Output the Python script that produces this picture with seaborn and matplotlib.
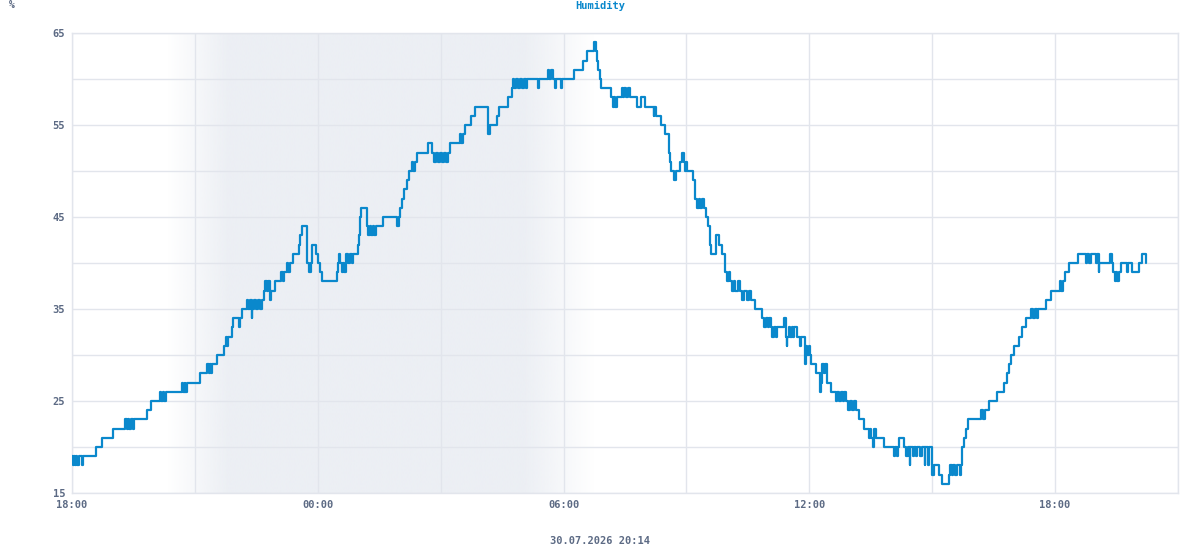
import numpy as np
import pandas as pd
import matplotlib
matplotlib.use("Agg")
import matplotlib.pyplot as plt
import matplotlib.dates as mdates
import seaborn as sns

# Readings: minutes after 18:00 where the value changes, and the new value (%)
start = pd.Timestamp("2026-07-29 18:00")
minutes = [
    0, 1, 3, 4, 6, 8, 10, 15, 16, 35, 44, 60, 78, 80, 82, 84, 86, 89, 91,
    110, 116, 129, 131, 133, 135, 137, 161, 163, 165, 166, 168, 187, 198, 200, 202, 204, 205,
    212, 222, 225, 227, 229, 234, 236, 244, 246, 249, 256, 258, 260, 263, 264, 266, 270, 272, 276, 278,
    281, 283, 285, 287, 290, 292, 297, 306, 309, 310, 315, 317, 319, 323, 332, 334, 337, 344, 347, 350,
    352, 357, 360, 363, 366, 388, 390, 391, 393, 395, 397, 399, 401, 404, 407, 410, 412,
    419, 420, 422, 424, 432, 434, 436, 438, 441, 443, 446, 455, 476, 479, 480, 483, 486, 490, 494,
    498, 500, 503, 505, 521, 528, 530, 533, 536, 539, 542, 545, 548, 551, 553, 568, 570, 572, 575, 585, 591,
    610, 612, 622, 626, 638, 644, 646, 648, 650, 653, 656, 659, 662, 665, 667, 682, 684,
    697, 699, 701, 704, 708, 709, 716, 717, 736, 748, 754, 764, 767, 769, 771, 773, 775,
    790, 792, 794, 796, 798, 805, 807, 809, 811, 814, 817, 827, 834, 839, 852, 853, 855,
    863, 868, 874, 876, 878, 882, 884, 890, 894, 896, 898, 900, 901,
    909, 912, 915, 918, 920, 923, 925, 929, 932, 934, 936, 944, 948, 952, 956, 960,
    962, 964, 967, 969, 971, 975, 978, 982, 985, 988, 991, 995, 1000,
    1011, 1014, 1016, 1019, 1021, 1024, 1026, 1028, 1031, 1033, 1043, 1046, 1047, 1048, 1050, 1052, 1054, 1056, 1058,
    1062, 1066, 1068, 1073, 1075, 1077, 1079, 1081, 1083, 1090, 1095, 1097, 1098, 1101, 1103, 1106, 1112,
    1119, 1121, 1124, 1126, 1129, 1131, 1134, 1137, 1139, 1142, 1145, 1148, 1153, 1160,
    1167, 1169, 1171, 1173, 1175, 1177, 1190, 1204, 1206, 1208, 1210, 1212, 1219, 1222, 1224,
    1227, 1228, 1232, 1234, 1236, 1238, 1242, 1245, 1249, 1250, 1254, 1255,
    1260, 1262, 1270, 1275, 1284, 1286, 1289, 1291, 1294, 1296, 1300, 1302,
    1304, 1307, 1310, 1313, 1332, 1334, 1337, 1343, 1355, 1365, 1369, 1373, 1376, 1380, 1387, 1392, 1398,
    1405, 1408, 1410, 1413, 1415, 1427, 1434, 1447, 1449, 1451, 1455, 1460, 1474,
    1485, 1487, 1489, 1493, 1500, 1502, 1504, 1505, 1521, 1523, 1525, 1527, 1529, 1531, 1533,
    1537, 1545, 1547, 1553, 1563, 1567, 1573,
]
humidity = [
    19, 18, 19, 18, 19, 18, 19, 18, 19, 20, 21, 22, 23, 22, 23, 22, 23, 22, 23,
    24, 25, 26, 25, 26, 25, 26, 27, 26, 27, 26, 27, 28, 29, 28, 29, 28, 29,
    30, 31, 32, 31, 32, 33, 34, 33, 34, 35, 36, 35, 36, 34, 35, 36, 35, 36, 35, 36,
    37, 38, 37, 38, 36, 37, 38, 39, 38, 39, 40, 39, 40, 41, 42, 43, 44, 40, 39, 40,
    42, 41, 40, 39, 38, 39, 40, 41, 40, 39, 40, 39, 41, 40, 41, 40, 41,
    42, 43, 45, 46, 44, 43, 44, 43, 44, 43, 44, 45, 44, 45, 46, 47, 48, 49, 50,
    51, 50, 51, 52, 53, 52, 51, 52, 51, 52, 51, 52, 51, 52, 53, 54, 53, 54, 55, 56, 57,
    54, 55, 56, 57, 58, 59, 60, 59, 60, 59, 60, 59, 60, 59, 60, 59, 60,
    61, 60, 61, 60, 59, 60, 59, 60, 61, 62, 63, 64, 63, 62, 61, 60, 59,
    58, 57, 58, 57, 58, 59, 58, 59, 58, 59, 58, 57, 58, 57, 56, 57, 56,
    55, 54, 52, 51, 50, 49, 50, 51, 52, 51, 50, 51, 50,
    49, 47, 46, 47, 46, 47, 46, 45, 44, 42, 41, 43, 42, 41, 39, 38,
    39, 38, 37, 38, 37, 38, 37, 36, 37, 36, 37, 36, 35,
    34, 33, 34, 33, 34, 33, 32, 33, 32, 33, 34, 32, 31, 32, 33, 32, 33, 32, 33,
    32, 31, 32, 29, 31, 30, 31, 30, 29, 28, 26, 27, 29, 28, 29, 27, 26,
    25, 26, 25, 26, 25, 26, 25, 24, 25, 24, 25, 24, 23, 22,
    21, 22, 21, 20, 22, 21, 20, 19, 20, 19, 20, 21, 20, 19, 20,
    18, 20, 19, 20, 19, 20, 19, 20, 18, 20, 18, 20,
    17, 18, 17, 16, 17, 18, 17, 18, 17, 18, 17, 18,
    20, 21, 22, 23, 24, 23, 24, 25, 26, 27, 28, 29, 30, 31, 32, 33, 34,
    35, 34, 35, 34, 35, 36, 37, 38, 37, 38, 39, 40, 41,
    40, 41, 40, 41, 40, 41, 39, 40, 41, 40, 39, 38, 39, 38, 39,
    40, 39, 40, 39, 40, 41, 40,
]
# night band (fade in, full, fade out)
night = ["2026-07-29 20:20", "2026-07-29 21:50", "2026-07-30 05:00", "2026-07-30 06:45"]
stamp = "30.07.2026 20:14"

line_col = "#0a88cc"
text_col = "#5c6a84"
grid_col = "#e2e5ec"
night_col = (236 / 255, 239 / 255, 244 / 255)

sns.set_style("white")
plt.rcParams["font.family"] = ["DejaVu Sans Mono", "DejaVu Sans"]
plt.rcParams["font.weight"] = "bold"

df = pd.DataFrame({"time": start + pd.to_timedelta(minutes, unit="min"),
                   "humidity": humidity})

fig = plt.figure(figsize=(12, 5.5), dpi=100)
ax = fig.add_axes([72 / 1200, 1 - 493 / 550, 1106 / 1200, 460 / 550])

x0 = start
x1 = start + pd.Timedelta(hours=27)

# night shading as a horizontal gradient
grid_t = pd.date_range(x0, x1, freq="1min")
tn = mdates.date2num(grid_t)
knots = mdates.date2num(pd.to_datetime(night))
alpha = np.interp(tn, knots, [0, 1, 1, 0])
img = np.zeros((1, len(tn), 4))
img[..., 0], img[..., 1], img[..., 2] = night_col
img[..., 3] = alpha
ax.imshow(img, extent=[tn[0], tn[-1], 15, 65], aspect="auto", zorder=0,
          interpolation="bilinear")

sns.lineplot(data=df, x="time", y="humidity", drawstyle="steps-post",
             color=line_col, linewidth=1.6, estimator=None, ax=ax, zorder=3)

ax.set_xlim(mdates.date2num(x0), mdates.date2num(x1))
ax.set_ylim(15, 65)
ax.set_xlabel("")
ax.set_ylabel("")

ax.set_yticks([15, 25, 35, 45, 55, 65])
ax.set_yticks([20, 30, 40, 50, 60], minor=True)
ax.xaxis.set_major_locator(mdates.HourLocator(byhour=[0, 6, 12, 18]))
ax.xaxis.set_minor_locator(mdates.HourLocator(byhour=[3, 9, 15, 21]))
ax.xaxis.set_major_formatter(mdates.DateFormatter("%H:%M"))

ax.set_axisbelow(True)
ax.grid(True, which="both", color=grid_col, linewidth=1)
ax.tick_params(which="both", length=0, colors=text_col, labelsize=7.5)
ax.tick_params(axis="y", pad=5)
ax.tick_params(axis="x", pad=5)
for s in ax.spines.values():
    s.set_color(grid_col)
    s.set_linewidth(1)

fig.text(0.5, 1 - 6 / 550, "Humidity", ha="center", va="center",
         color=line_col, fontsize=7.5, fontweight="bold")
fig.text(12 / 1200, 1 - 5 / 550, "%", ha="center", va="center",
         color=text_col, fontsize=7, fontweight="bold")
fig.text(0.5, 1 - 541 / 550, stamp, ha="center", va="center",
         color=text_col, fontsize=7.5, fontweight="bold")

fig.savefig("out.png", dpi=100)
